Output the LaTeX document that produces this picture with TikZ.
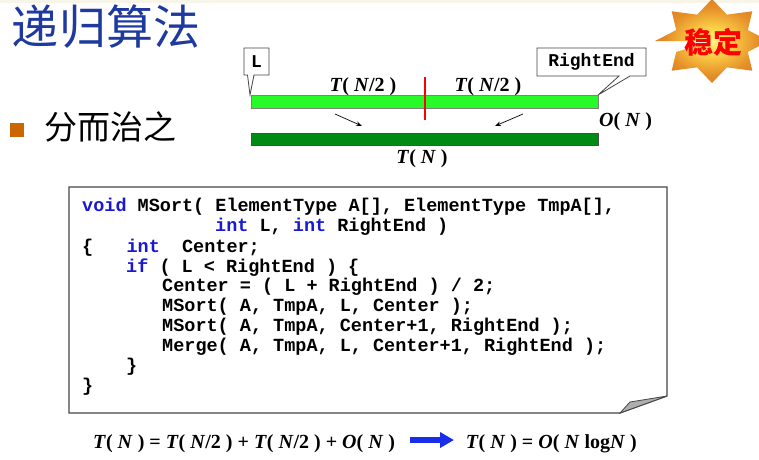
\documentclass[tikz,border=0pt]{standalone}
\usepackage{fontspec}
\setmainfont{Liberation Serif}
\newfontfamily\codefont{Liberation Mono}
\newfontfamily\cjk{Noto Sans CJK SC}
\usetikzlibrary{arrows.meta}
\definecolor{titleblue}{RGB}{31,58,158}
\definecolor{bulletorange}{RGB}{204,102,0}
\definecolor{kwblue}{RGB}{25,25,210}
\definecolor{lightbar}{RGB}{40,250,40}
\definecolor{darkbar}{RGB}{0,140,20}
\definecolor{boxgray}{RGB}{70,70,70}
\definecolor{flapgray}{RGB}{175,175,175}
\definecolor{topstrip}{RGB}{247,244,232}
\definecolor{arrowblue}{RGB}{25,45,235}
\pgfdeclareradialshading{starshade}{\pgfpoint{0bp}{0bp}}{rgb(0bp)=(1,0.96,0.55);rgb(6bp)=(1,0.86,0.3);rgb(20bp)=(0.9,0.56,0.16);rgb(34bp)=(0.82,0.42,0.1);rgb(50bp)=(0.78,0.38,0.08)}
\newcommand{\bi}[1]{\textit{#1}}
\newcommand{\kw}[1]{\textcolor{kwblue}{#1}}
\begin{document}
\begin{tikzpicture}[x=1pt,y=-1pt,
  lbl/.style={inner sep=0pt, font=\fontsize{20}{20}\selectfont\bfseries},
  codeln/.style={anchor=base west, inner sep=0pt, font=\fontsize{18.5}{20}\selectfont\codefont\bfseries},
  calltxt/.style={inner sep=0pt, font=\fontsize{18}{18}\selectfont\codefont\bfseries},
  callbox/.style={draw=boxgray, fill=white, line width=0.8pt, line join=miter},
  smallarrow/.style={-{Stealth[length=6pt,width=4.5pt]}, line width=0.7pt},
]
\useasboundingbox (0,0) rectangle (759,459);
\fill[white] (0,0) rectangle (759,459);
\fill[topstrip] (0,0) rectangle (759,3);

% title and bullet
\node[inner sep=0pt, text=titleblue, font=\fontsize{47}{47}\selectfont\cjk] (title) at (106,27) {递归算法};
\fill[bulletorange] (10,123) rectangle (24,137);
\node[inner sep=0pt, font=\fontsize{33}{33}\selectfont\cjk] (dc) at (110,127) {分而治之};

% star
\shade[shading=starshade] (712,41)
  \foreach \i in {0,...,15} {
    \ifodd\i
      -- ({712+0.68*57*cos(\i*22.5+180)},{41+0.68*42*sin(\i*22.5+180)})
    \else
      -- ({712+57*cos(\i*22.5+180)},{41+42*sin(\i*22.5+180)})
    \fi
  } -- cycle;
\node[inner sep=0pt, text=red, font=\fontsize{29}{29}\selectfont\cjk\bfseries] (stable) at (713,42) {稳定};

% bars
\filldraw[fill=lightbar, draw=gray, line width=0.6pt] (251,95) rectangle (598,108);
\filldraw[fill=darkbar, draw=black!70, line width=0.6pt] (251,133) rectangle (598,145);
\draw[red, line width=2pt] (425,77) -- (425,120);
\coordinate (a1s) at (335,114); \coordinate (a1e) at (362,126);
\coordinate (a2s) at (523,114); \coordinate (a2e) at (495,126);
\draw[smallarrow] (a1s) -- (a1e);
\draw[smallarrow] (a2s) -- (a2e);

\node[lbl, anchor=base] (tl) at (363,91) {\bi{T}( \bi{N}/2 )};
\node[lbl, anchor=base] (tr) at (488,91) {\bi{T}( \bi{N}/2 )};
\node[lbl, anchor=base west] (on) at (599,126) {\bi{O}( \bi{N} )};
\node[lbl, anchor=base] (tn) at (422,163) {\bi{T}( \bi{N} )};

% callouts
\coordinate (Ltip) at (250,95);
\draw[callbox] (244,48) -- (269,48) -- (269,75) -- (254,75) -- (Ltip) -- (247.5,75) -- (244,75) -- cycle;
\node[calltxt] (Ltxt) at (256.5,61.5) {L};
\coordinate (Rtip) at (598,95);
\draw[callbox] (537,48) -- (646,48) -- (646,76) -- (630,76) -- (Rtip) -- (619,76) -- (537,76) -- cycle;
\node[calltxt] (Rtxt) at (591.5,62) {RightEnd};

% code box
\draw[boxgray, line width=1.2pt, line join=miter, fill=white] (69,187) -- (667,187) -- (667,396) -- (620,413) -- (69,413) -- cycle;
\filldraw[fill=flapgray, draw=boxgray, line width=0.8pt, line join=miter] (620,413) -- (630,402) -- (667,396) -- cycle;

\node[codeln] (c1) at (82,211) {\kw{void} MSort( ElementType A[], ElementType TmpA[],};
\node[codeln] (c2) at (215,231) {\kw{int} L, \kw{int} RightEnd )};
\node[codeln] (c3) at (82,252) {\{~~~\kw{int}~~Center;};
\node[codeln] (c4) at (126,272) {\kw{if} ( L < RightEnd ) \{};
\node[codeln] (c5) at (162,291) {Center = ( L + RightEnd ) / 2;};
\node[codeln] (c6) at (162,311) {MSort( A, TmpA, L, Center );};
\node[codeln] (c7) at (162,331) {MSort( A, TmpA, Center+1, RightEnd );};
\node[codeln] (c8) at (162,351) {Merge( A, TmpA, L, Center+1, RightEnd );};
\node[codeln] (c9) at (126,371) {\}};
\node[codeln] (c10) at (82,391) {\}};

% bottom formula
\node[lbl, anchor=base west] (f1) at (93,448) {\bi{T}( \bi{N} ) = \bi{T}( \bi{N}/2 ) + \bi{T}( \bi{N}/2 ) + \bi{O}( \bi{N} )};
\node[lbl, anchor=base east] (f2) at (637,448) {\bi{T}( \bi{N} ) = \bi{O}( \bi{N} log\bi{N} )};
\coordinate (bas) at (410,440);
\coordinate (bae) at (454,440);
\draw[arrowblue, line width=5.5pt, -{Triangle[length=14pt,width=15pt]}] (bas) -- (bae);
\end{tikzpicture}
\end{document}
